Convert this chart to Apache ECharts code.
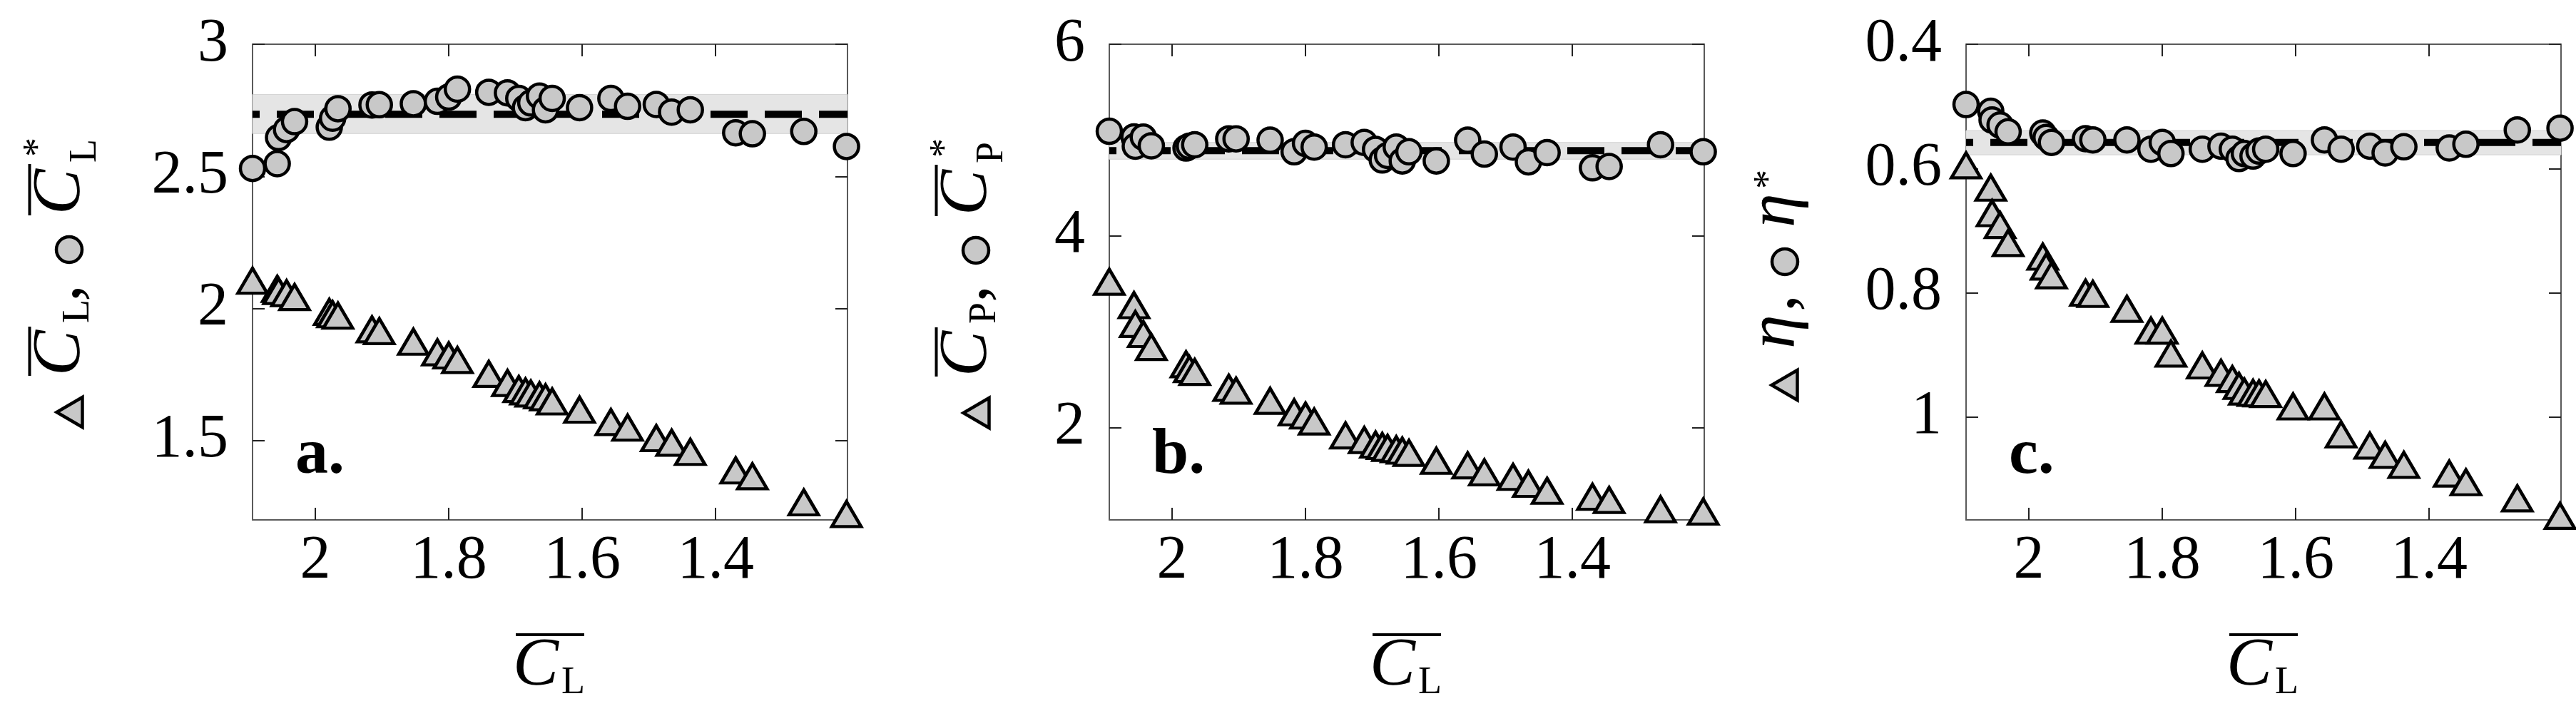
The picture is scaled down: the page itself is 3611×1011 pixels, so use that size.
<!DOCTYPE html>
<html>
<head>
<meta charset="utf-8">
<script src="https://cdn.jsdelivr.net/npm/echarts@6/dist/echarts.min.js"></script>
<style>
html,body{margin:0;padding:0;background:#fff}
#chart{width:3611px;height:1011px}
</style>
</head>
<body>
<div id="chart"></div>
<script>
/*****  data  *****/
// mean lift coefficient of each run (shared abscissa of the three panels)
var clBar = [2.094, 2.057, 2.055, 2.043, 2.031, 1.979, 1.974, 1.966, 1.915, 1.904, 1.853, 1.817, 1.800, 1.787, 1.740, 1.712,
	1.695, 1.685, 1.677, 1.664, 1.655, 1.645, 1.604, 1.557, 1.532, 1.489, 1.466, 1.438, 1.370, 1.345, 1.268, 1.204];

// panel a
var clTri = [2.105, 2.074, 2.066, 2.058, 2.043, 1.987, 1.978, 1.973, 1.921, 1.914, 1.874, 1.834, 1.822, 1.805, 1.752, 1.718,
	1.695, 1.686, 1.678, 1.671, 1.664, 1.648, 1.617, 1.570, 1.549, 1.509, 1.492, 1.457, 1.387, 1.365, 1.266, 1.222];
var clStar = [2.530, 2.548, 2.647, 2.677, 2.707, 2.686, 2.720, 2.756, 2.770, 2.771, 2.775, 2.784, 2.800, 2.830, 2.818, 2.816,
	2.795, 2.760, 2.778, 2.804, 2.752, 2.795, 2.760, 2.795, 2.765, 2.772, 2.743, 2.752, 2.665, 2.661, 2.670, 2.613];
// panel b
var cpTri = [3.521, 3.277, 3.080, 2.975, 2.840, 2.660, 2.610, 2.580, 2.415, 2.385, 2.279, 2.159, 2.125, 2.063, 1.918, 1.870,
	1.822, 1.807, 1.788, 1.774, 1.759, 1.735, 1.653, 1.605, 1.533, 1.485, 1.413, 1.340, 1.278, 1.244, 1.148, 1.124];
var cpStar = [5.092, 5.032, 4.936, 5.030, 4.940, 4.917, 4.936, 4.951, 5.013, 5.013, 4.999, 4.878, 4.965, 4.927, 4.951, 4.975,
	4.903, 4.792, 4.840, 4.927, 4.782, 4.878, 4.782, 4.999, 4.854, 4.927, 4.773, 4.869, 4.710, 4.724, 4.951, 4.878];
// panel c
var etaTri = [0.595, 0.631, 0.672, 0.691, 0.720, 0.742, 0.758, 0.772, 0.800, 0.802, 0.826, 0.861, 0.861, 0.898, 0.917, 0.929,
	0.939, 0.950, 0.959, 0.961, 0.962, 0.963, 0.983, 0.983, 1.028, 1.046, 1.061, 1.077, 1.091, 1.105, 1.131, 1.159];
var etaStar = [0.497, 0.508, 0.522, 0.530, 0.541, 0.543, 0.550, 0.558, 0.552, 0.554, 0.554, 0.569, 0.558, 0.576, 0.569, 0.564,
	0.569, 0.584, 0.576, 0.580, 0.572, 0.569, 0.576, 0.554, 0.569, 0.564, 0.575, 0.565, 0.567, 0.561, 0.538, 0.535];

// dashed mean and shaded spread of the starred quantity (a, b, c)
var starMean = [2.735, 4.89, 0.558];
var starLo = [2.662, 4.80, 0.539];
var starHi = [2.810, 4.975, 0.578];

// axes
var xRange = [1.2025, 2.094];
var xTicks = [1.4, 1.6, 1.8, 2];
var yMin = [1.2, 1.037, 0.4];
var yMax = [3, 6, 1.1655];
var yTicks = [[1.5, 2, 2.5, 3], [2, 4, 6], [0.4, 0.6, 0.8, 1]];
var yInverse = [false, false, true];
var panelTags = ['a.', 'b.', 'c.'];

var triSets = [clTri, cpTri, etaTri];
var starSets = [clStar, cpStar, etaStar];

/*****  layout  *****/
var SERIF = 'Liberation Serif';
var gridLeft = [354, 1555, 2756];
var gridTop = 62, gridW = 834, gridH = 667;
var FILL = '#c8c8c8';

function fmt(v){ return String(+v.toFixed(2)); }
function pairs(xs, ys){ return xs.map(function(x, i){ return [x, ys[i]]; }); }

function txt(x, y, s, font){
	return {type:'text', x:x, y:y, silent:true,
		style:{text:s, font:font, fill:'#000', align:'left', verticalAlign:'middle'}};
}
function bar(x, y, w){
	return {type:'rect', silent:true, shape:{x:x, y:y, width:w, height:4}, style:{fill:'#000'}};
}
function triGlyph(){
	return {type:'polygon', silent:true, shape:{points:[[4,-2.5],[46,-2.5],[25,-38.5]]},
		style:{fill:FILL, stroke:'#000', lineWidth:4.5}};
}
function cirGlyph(cx, cy){
	return {type:'circle', silent:true, shape:{cx:cx, cy:cy, r:18},
		style:{fill:FILL, stroke:'#000', lineWidth:4.5}};
}

var BIG = 'italic 96px "Liberation Serif"';
var SUB = '54px "Liberation Serif"';
var ROM = '96px "Liberation Serif"';

// rotated y titles, drawn in local coords (x along the text, y=0 on the baseline)
function yTitleC(x, y, sub){
	return {type:'group', x:x, y:y, rotation:Math.PI/2, children:[
		triGlyph(),
		txt(76, -32, 'C', BIG), bar(76, -78.5, 69), txt(150, -8, sub, SUB),
		txt(180, -32, ',', ROM),
		cirGlyph(253, -21),
		txt(302, -32, 'C', BIG), bar(301, -78.5, 72), txt(383, -63, '*', SUB), txt(375, 1.5, sub, SUB)
	]};
}
function yTitleEta(x, y){
	return {type:'group', x:x, y:y, rotation:Math.PI/2, children:[
		triGlyph(),
		txt(76, -32, 'η', BIG),
		txt(128, -32, ',', ROM),
		cirGlyph(198, -20),
		txt(246, -32, 'η', BIG), txt(300, -41, '*', SUB)
	]};
}
function xTitle(cx){
	return {type:'group', x:cx, y:0, children:[
		txt(-52, 935, 'C', BIG), bar(-48, 888, 96), txt(16, 958, 'L', SUB)
	]};
}

var grids = [], xAxes = [], yAxes = [], series = [], graphics = [];
for (var i = 0; i < 3; i++) {
	grids.push({left:gridLeft[i], top:gridTop, width:gridW, height:gridH});
	var line = {show:true, onZero:false, lineStyle:{color:'#5a5a5a', width:2}};
	var xt = {show:true, inside:true, length:17, customValues:xTicks, lineStyle:{color:'#222', width:2}};
	var yt = {show:true, inside:true, length:17, customValues:yTicks[i], lineStyle:{color:'#222', width:2}};
	var lab = {formatter:fmt, fontFamily:SERIF, fontStyle:'normal', fontWeight:'normal', fontSize:86, color:'#000'};
	xAxes.push({gridIndex:i, type:'value', position:'bottom', min:xRange[0], max:xRange[1], inverse:true,
		axisLine:line, axisTick:xt, splitLine:{show:false},
		axisLabel:Object.assign({customValues:xTicks, margin:15}, lab)});
	xAxes.push({gridIndex:i, type:'value', position:'top', min:xRange[0], max:xRange[1], inverse:true,
		axisLine:line, axisTick:xt, splitLine:{show:false}, axisLabel:{show:false}});
	yAxes.push({gridIndex:i, type:'value', position:'left', min:yMin[i], max:yMax[i], inverse:yInverse[i],
		axisLine:line, axisTick:yt, splitLine:{show:false},
		axisLabel:Object.assign({customValues:yTicks[i], margin:34}, lab)});
	yAxes.push({gridIndex:i, type:'value', position:'right', min:yMin[i], max:yMax[i], inverse:yInverse[i],
		axisLine:line, axisTick:yt, splitLine:{show:false}, axisLabel:{show:false}});

	series.push({
		type:'line', xAxisIndex:2*i, yAxisIndex:2*i, z:2, silent:true, symbol:'none',
		data:[[xRange[1], starMean[i]], [xRange[0], starMean[i]]],
		lineStyle:{color:'#000', width:10, type:[52, 24], dashOffset:42, cap:'butt'},
		markArea:{silent:true, z:1, itemStyle:{color:'#e5e5e5', borderColor:'#d2d2d2', borderWidth:1},
			data:[[{yAxis:starLo[i]}, {yAxis:starHi[i]}]]}
	});
	series.push({
		type:'scatter', xAxisIndex:2*i, yAxisIndex:2*i, z:3, silent:true, clip:false,
		symbol:'circle', symbolSize:34,
		itemStyle:{color:FILL, borderColor:'#000', borderWidth:4.5, opacity:1},
		data:pairs(clBar, starSets[i])
	});
	series.push({
		type:'scatter', xAxisIndex:2*i, yAxisIndex:2*i, z:4, silent:true, clip:false,
		symbol:'triangle', symbolSize:[41, 35],
		itemStyle:{color:FILL, borderColor:'#000', borderWidth:4.5, opacity:1},
		data:pairs(clBar, triSets[i])
	});

	graphics.push(xTitle(gridLeft[i] + gridW / 2));
	graphics.push(txt(gridLeft[i] + 60, 639, panelTags[i], 'bold 92px "Liberation Serif"'));
}
graphics.push(yTitleC(118, 603, 'L'));
graphics.push(yTitleC(1389, 604, 'P'));
graphics.push(yTitleEta(2522, 565));

var chart = echarts.init(document.getElementById('chart'));
chart.setOption({
	backgroundColor:'#fff',
	animation:false,
	grid:grids,
	xAxis:xAxes,
	yAxis:yAxes,
	series:series,
	graphic:{elements:graphics}
});
</script>
</body>
</html>
